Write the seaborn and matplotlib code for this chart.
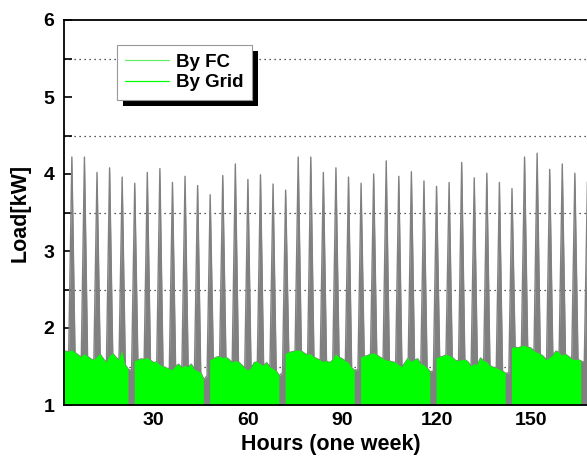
import numpy as np
import matplotlib
matplotlib.use("Agg")
import matplotlib.pyplot as plt
from matplotlib.lines import Line2D
from matplotlib.patches import Rectangle
import seaborn as sns

nan = np.nan
# hourly load supplied by the grid (kW above the 1 kW baseline axis), one list per day
grid_day1 = [1.68,1.70,1.69,1.71,1.68,1.65,1.62,1.66,1.63,1.60,1.58,1.62,1.66,1.60,1.55,1.63,1.67,1.62,1.58,1.70,1.52,1.46,nan,1.57]
grid_day2 = [1.58,1.60,1.59,1.61,1.58,1.55,1.56,1.52,1.50,1.48,1.47,1.45,1.50,1.53,1.48,1.51,1.49,1.53,1.46,1.44,1.42,1.33,nan,1.58]
grid_day3 = [1.60,1.62,1.63,1.61,1.62,1.59,1.55,1.57,1.56,1.52,1.48,1.45,1.47,1.55,1.56,1.53,1.51,1.55,1.49,1.47,1.44,1.38,nan,1.66]
grid_day4 = [1.68,1.69,1.70,1.71,1.70,1.67,1.65,1.66,1.62,1.60,1.58,1.56,1.57,1.55,1.58,1.66,1.62,1.60,1.57,1.55,1.48,1.45,nan,1.62]
grid_day5 = [1.63,1.64,1.66,1.67,1.65,1.62,1.60,1.58,1.57,1.56,1.55,1.52,1.49,1.55,1.61,1.56,1.58,1.60,1.53,1.52,1.48,1.43,nan,1.61]
grid_day6 = [1.62,1.63,1.65,1.64,1.62,1.58,1.57,1.58,1.59,1.56,1.50,1.53,1.52,1.61,1.57,1.56,1.51,1.49,1.48,1.46,1.44,1.41,nan,1.74]
grid_day7 = [1.75,1.74,1.76,1.77,1.75,1.74,1.70,1.68,1.66,1.63,1.58,1.61,1.64,1.70,1.68,1.64,1.66,1.63,1.60,1.58,1.59,1.57,nan,1.70]

# total load at the 4-hourly fuel-cell peaks (hours 4, 8, ..., 168)
peak_hours = list(range(4, 169, 4))
peak_load = [4.22,4.22,4.02,4.08,3.96,3.88,
             4.02,4.07,3.89,3.97,3.85,3.73,
             3.98,4.13,3.93,3.99,3.87,3.79,
             4.22,4.22,4.02,4.08,3.96,3.88,
             4.00,4.17,3.97,4.03,3.91,3.84,
             3.89,4.15,3.95,4.01,3.89,3.81,
             4.22,4.27,4.06,4.13,4.01,3.90]
# hours when the grid supplies nothing (load fully by FC)
gap_hours = [23, 47, 71, 95, 119, 143, 167]
gap_load = [1.45, 1.38, 1.42, 1.46, 1.44, 1.42, 1.55]

hours = np.arange(1, 169)
grid = np.array(grid_day1 + grid_day2 + grid_day3 + grid_day4 + grid_day5 + grid_day6 + grid_day7)
total = grid.copy()
for h, v in zip(gap_hours, gap_load):
    total[h - 1] = v
for h, v in zip(peak_hours, peak_load):
    total[h - 1] = v

sns.set_theme(style="ticks")
plt.rcParams['font.family'] = ['Liberation Sans', 'DejaVu Sans']
plt.rcParams['font.weight'] = 'bold'
plt.rcParams['text.color'] = 'black'
plt.rcParams['axes.labelcolor'] = 'black'
plt.rcParams['xtick.color'] = 'black'
plt.rcParams['ytick.color'] = 'black'

W, H = 587, 458
fig = plt.figure(figsize=(W / 100, H / 100), dpi=100)
ax = fig.add_axes([64 / W, 53 / H, 536 / W, 385 / H])

ax.fill_between(hours, 1, total, color="#808080", lw=0, zorder=1)
sns.lineplot(x=hours, y=total, color="#808080", lw=1.0, ax=ax, zorder=1.2)
ax.fill_between(hours, 1, grid, color="#00ff00", lw=0, zorder=2)

ax.set_xlim(1.5, 172)
ax.set_ylim(1, 6)
ax.set_xticks([30, 60, 90, 120, 150])
ax.set_yticks([1, 2, 3, 4, 5, 6])
ax.set_yticks([1.5, 2.5, 3.5, 4.5, 5.5], minor=True)
ax.set_axisbelow(True)
ax.yaxis.grid(True, which='minor', linestyle=(0, (1, 3)), color='#222222', lw=0.9)
ax.yaxis.grid(False, which='major')
ax.xaxis.grid(False)

ax.tick_params(axis='y', which='both', direction='in', length=6, width=1.2, colors='black',
               labelsize=14, pad=7, right=False)
ax.tick_params(axis='x', which='both', length=0, labelsize=14, pad=5, top=False, colors='black')
for lab in ax.get_xticklabels() + ax.get_yticklabels():
    lab.set_fontweight('bold')

for s in ['left', 'bottom', 'top']:
    ax.spines[s].set_visible(True)
    ax.spines[s].set_color('black')
    ax.spines[s].set_linewidth(1.3)
ax.spines['right'].set_visible(False)

ax.set_xlabel("Hours (one week)", fontsize=15.5, fontweight='bold', color='black')
ax.set_ylabel("Load[kW]", fontsize=15.5, fontweight='bold', color='black')
ax.xaxis.set_label_coords((331 - 64) / 536, -(434 - 405) / 385)
ax.yaxis.set_label_coords(-(64 - 31) / 536, 0.5)

handles = [Line2D([0], [0], color="#66ee66", lw=0.9),
           Line2D([0], [0], color="#00ff00", lw=0.9)]
leg = ax.legend(handles, ["By FC", "By Grid"], loc='upper left',
                bbox_to_anchor=((117 - 64) / 536, (405 - 45) / 385), borderaxespad=0,
                fancybox=False, frameon=True, framealpha=1, edgecolor='#999999',
                prop={'weight': 'bold', 'size': 13.5}, handlelength=2.3, handletextpad=0.4,
                labelspacing=0.2, borderpad=0.45)
for t in leg.get_texts():
    t.set_color('black')
leg.get_frame().set_linewidth(0.8)
leg.set_zorder(6)

fig.canvas.draw()
bb = leg.get_window_extent()
shadow = Rectangle((bb.x0 + 6, bb.y0 - 6), bb.width, bb.height, transform=None,
                   facecolor='black', edgecolor='none', zorder=5.5)
ax.add_artist(shadow)

fig.savefig("out.png", dpi=100)
